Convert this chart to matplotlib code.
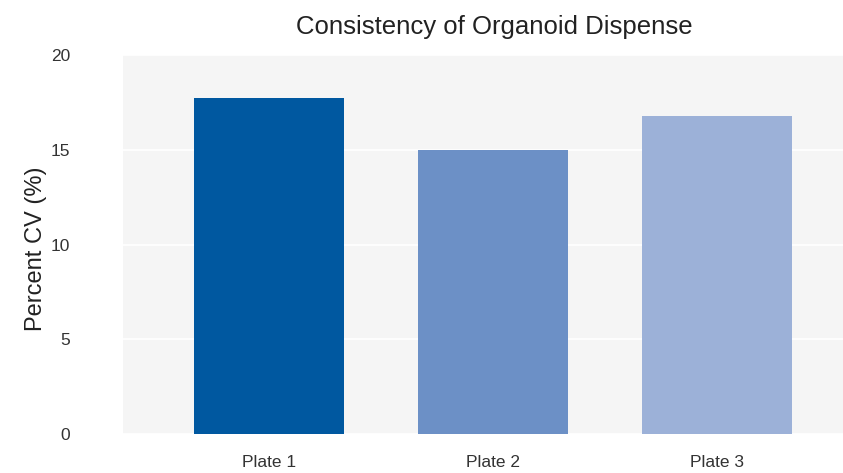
import matplotlib.pyplot as plt

plates = ["Plate 1", "Plate 2", "Plate 3"]
cv_values = [17.75, 15.0, 16.8]
bar_colors = ["#0058A0", "#6C90C6", "#9CB1D8"]
y_ticks = [0, 5, 10, 15, 20]

plt.rcParams["font.family"] = ["Liberation Sans", "DejaVu Sans"]

fig = plt.figure(figsize=(8.43, 4.73), dpi=100)
ax = fig.add_axes([0.146, 0.0825, 0.854, 0.801])
ax.set_facecolor("#F5F5F5")

ax.bar(range(len(plates)), cv_values, width=0.668, color=bar_colors, zorder=3)

ax.set_ylim(0, 20)
ax.set_xlim(-0.65, 2.56)
ax.set_yticks(y_ticks)
ax.set_xticks(range(len(plates)))
ax.set_xticklabels(plates)
ax.grid(axis="y", color="white", linewidth=1.2, zorder=1)
ax.set_axisbelow(True)
for s in ax.spines.values():
    s.set_visible(False)
ax.tick_params(axis="y", length=0, pad=38, labelsize=12.5, labelcolor="#333333")
ax.tick_params(axis="x", length=0, pad=15, labelsize=12.5, labelcolor="#333333")

fig.text(0.043, 0.475, "Percent CV (%)", rotation=90, ha="center", va="center",
         fontsize=17, color="#222222")
fig.text(0.586, 0.943, "Consistency of Organoid Dispense", ha="center", va="center",
         fontsize=18.5, color="#222222")

fig.savefig("out.png", dpi=100)
